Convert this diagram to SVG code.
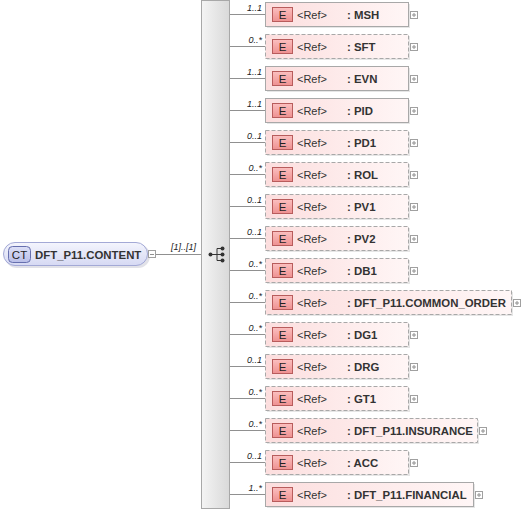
<svg xmlns="http://www.w3.org/2000/svg" width="522" height="513" viewBox="0 0 522 513">
<defs>
<linearGradient id="gE" x1="0" y1="0" x2="1" y2="0"><stop offset="0" stop-color="#fcdede"/><stop offset="1" stop-color="#fff6f6"/></linearGradient>
<linearGradient id="gBadge" x1="0" y1="0" x2="0" y2="1"><stop offset="0" stop-color="#fbc0c0"/><stop offset="1" stop-color="#ee9090"/></linearGradient>
<linearGradient id="gCT" x1="0" y1="0" x2="0" y2="1"><stop offset="0" stop-color="#f4f5fd"/><stop offset="1" stop-color="#d6d9f3"/></linearGradient>
<linearGradient id="gCTb" x1="0" y1="0" x2="0" y2="1"><stop offset="0" stop-color="#dde0f7"/><stop offset="1" stop-color="#b9bee8"/></linearGradient>
<linearGradient id="gSeq" x1="0" y1="0" x2="1" y2="0"><stop offset="0" stop-color="#f4f4f4"/><stop offset="1" stop-color="#d9d9d9"/></linearGradient>
<g id="plus"><rect x="0.5" y="0.5" width="7" height="7" fill="#fff" stroke="#a0a0a0"/><path d="M2 4H6M4 2V6" stroke="#909090"/></g>
</defs>
<style>
.t{font-family:"Liberation Sans",Arial,sans-serif;font-size:11.4px;font-weight:bold;fill:#333}
.r{font-family:"Liberation Sans",Arial,sans-serif;font-size:11px;fill:#333}
.c{font-family:"Liberation Sans",Arial,sans-serif;font-size:9px;font-style:italic;fill:#222}
.box{fill:url(#gE);stroke:#a8a8a8;stroke-width:1}
.opt{stroke-dasharray:4,2}
.sh{fill:#e6e6e6}
.badge{fill:url(#gBadge);stroke:#b85c5c;stroke-width:1}
.bt{font-family:"Liberation Sans",Arial,sans-serif;font-size:11.5px;fill:#222}
.ln{stroke:#909090;stroke-width:1;fill:none}
</style>
<g id="connectors">
<path class="ln" d="M156 254.5H202"/>
<text class="c" x="196" y="250" text-anchor="end">[1]..[1]</text>
<path class="ln" d="M230 14.5H265M230 46.5H265M230 78.5H265M230 110.5H265M230 142.5H265M230 174.5H265M230 206.5H265M230 238.5H265M230 270.5H265M230 302.5H265M230 334.5H265M230 366.5H265M230 398.5H265M230 430.5H265M230 462.5H265M230 494.5H265"/>
<text class="c" x="262" y="11" text-anchor="end">1..1</text>
<text class="c" x="262" y="43" text-anchor="end">0..*</text>
<text class="c" x="262" y="75" text-anchor="end">1..1</text>
<text class="c" x="262" y="107" text-anchor="end">1..1</text>
<text class="c" x="262" y="139" text-anchor="end">0..1</text>
<text class="c" x="262" y="171" text-anchor="end">0..*</text>
<text class="c" x="262" y="203" text-anchor="end">0..1</text>
<text class="c" x="262" y="235" text-anchor="end">0..1</text>
<text class="c" x="262" y="267" text-anchor="end">0..*</text>
<text class="c" x="262" y="299" text-anchor="end">0..*</text>
<text class="c" x="262" y="331" text-anchor="end">0..*</text>
<text class="c" x="262" y="363" text-anchor="end">0..1</text>
<text class="c" x="262" y="395" text-anchor="end">0..*</text>
<text class="c" x="262" y="427" text-anchor="end">0..*</text>
<text class="c" x="262" y="459" text-anchor="end">0..1</text>
<text class="c" x="262" y="491" text-anchor="end">1..*</text>
</g>
<g id="ct">
<rect x="5" y="244" width="145" height="24" rx="12" fill="#e2e2e8"/>
<rect x="3.5" y="242.5" width="144" height="23" rx="11.5" fill="url(#gCT)" stroke="#a3a9d6"/>
<rect x="8.5" y="246.5" width="22" height="16" rx="4" fill="url(#gCTb)" stroke="#666fae"/>
<text class="bt" x="19.5" y="258.5" text-anchor="middle">CT</text>
<text class="t" x="35" y="258.5">DFT_P11.CONTENT</text>
<rect x="148.5" y="250.5" width="7" height="7" fill="#fff" stroke="#a0a0a0"/>
<path d="M150 254.5H154" stroke="#909090"/>
</g>
<g id="sequence">
<rect x="201.5" y="0.5" width="28" height="508" fill="url(#gSeq)" stroke="#a8a8a8"/>
<path d="M210 254.5H217M217 248.5V260.5M217 248.5H222M217 254.5H222M217 260.5H222" stroke="#333" fill="none"/>
<circle cx="210.5" cy="254.5" r="2" fill="#333"/>
<circle cx="222.5" cy="248.5" r="2" fill="#333"/>
<circle cx="222.5" cy="254.5" r="2" fill="#333"/>
<circle cx="222.5" cy="260.5" r="2" fill="#333"/>
</g>
<g id="e0"><rect class="sh" x="267" y="4" width="143" height="24"/><rect class="box" x="265.5" y="2.5" width="143" height="24"/><rect class="badge" x="272.5" y="7.5" width="20" height="14"/><text class="bt" x="282.5" y="18.5" text-anchor="middle">E</text><text class="r" x="297" y="18.5">&lt;Ref&gt;</text><text class="t" x="347" y="18.5">: MSH</text><use href="#plus" x="410" y="11"/></g>
<g id="e1"><rect class="sh" x="267" y="36" width="143" height="24"/><rect class="box opt" x="265.5" y="34.5" width="143" height="24"/><rect class="badge" x="272.5" y="39.5" width="20" height="14"/><text class="bt" x="282.5" y="50.5" text-anchor="middle">E</text><text class="r" x="297" y="50.5">&lt;Ref&gt;</text><text class="t" x="347" y="50.5">: SFT</text><use href="#plus" x="410" y="43"/></g>
<g id="e2"><rect class="sh" x="267" y="68" width="143" height="24"/><rect class="box" x="265.5" y="66.5" width="143" height="24"/><rect class="badge" x="272.5" y="71.5" width="20" height="14"/><text class="bt" x="282.5" y="82.5" text-anchor="middle">E</text><text class="r" x="297" y="82.5">&lt;Ref&gt;</text><text class="t" x="347" y="82.5">: EVN</text><use href="#plus" x="410" y="75"/></g>
<g id="e3"><rect class="sh" x="267" y="100" width="143" height="24"/><rect class="box" x="265.5" y="98.5" width="143" height="24"/><rect class="badge" x="272.5" y="103.5" width="20" height="14"/><text class="bt" x="282.5" y="114.5" text-anchor="middle">E</text><text class="r" x="297" y="114.5">&lt;Ref&gt;</text><text class="t" x="347" y="114.5">: PID</text><use href="#plus" x="410" y="107"/></g>
<g id="e4"><rect class="sh" x="267" y="132" width="143" height="24"/><rect class="box opt" x="265.5" y="130.5" width="143" height="24"/><rect class="badge" x="272.5" y="135.5" width="20" height="14"/><text class="bt" x="282.5" y="146.5" text-anchor="middle">E</text><text class="r" x="297" y="146.5">&lt;Ref&gt;</text><text class="t" x="347" y="146.5">: PD1</text><use href="#plus" x="410" y="139"/></g>
<g id="e5"><rect class="sh" x="267" y="164" width="143" height="24"/><rect class="box opt" x="265.5" y="162.5" width="143" height="24"/><rect class="badge" x="272.5" y="167.5" width="20" height="14"/><text class="bt" x="282.5" y="178.5" text-anchor="middle">E</text><text class="r" x="297" y="178.5">&lt;Ref&gt;</text><text class="t" x="347" y="178.5">: ROL</text><use href="#plus" x="410" y="171"/></g>
<g id="e6"><rect class="sh" x="267" y="196" width="143" height="24"/><rect class="box opt" x="265.5" y="194.5" width="143" height="24"/><rect class="badge" x="272.5" y="199.5" width="20" height="14"/><text class="bt" x="282.5" y="210.5" text-anchor="middle">E</text><text class="r" x="297" y="210.5">&lt;Ref&gt;</text><text class="t" x="347" y="210.5">: PV1</text><use href="#plus" x="410" y="203"/></g>
<g id="e7"><rect class="sh" x="267" y="228" width="143" height="24"/><rect class="box opt" x="265.5" y="226.5" width="143" height="24"/><rect class="badge" x="272.5" y="231.5" width="20" height="14"/><text class="bt" x="282.5" y="242.5" text-anchor="middle">E</text><text class="r" x="297" y="242.5">&lt;Ref&gt;</text><text class="t" x="347" y="242.5">: PV2</text><use href="#plus" x="410" y="235"/></g>
<g id="e8"><rect class="sh" x="267" y="260" width="143" height="24"/><rect class="box opt" x="265.5" y="258.5" width="143" height="24"/><rect class="badge" x="272.5" y="263.5" width="20" height="14"/><text class="bt" x="282.5" y="274.5" text-anchor="middle">E</text><text class="r" x="297" y="274.5">&lt;Ref&gt;</text><text class="t" x="347" y="274.5">: DB1</text><use href="#plus" x="410" y="267"/></g>
<g id="e9"><rect class="sh" x="267" y="292" width="246" height="24"/><rect class="box opt" x="265.5" y="290.5" width="246" height="24"/><rect class="badge" x="272.5" y="295.5" width="20" height="14"/><text class="bt" x="282.5" y="306.5" text-anchor="middle">E</text><text class="r" x="297" y="306.5">&lt;Ref&gt;</text><text class="t" x="347" y="306.5">: DFT_P11.COMMON_ORDER</text><use href="#plus" x="513" y="299"/></g>
<g id="e10"><rect class="sh" x="267" y="324" width="143" height="24"/><rect class="box opt" x="265.5" y="322.5" width="143" height="24"/><rect class="badge" x="272.5" y="327.5" width="20" height="14"/><text class="bt" x="282.5" y="338.5" text-anchor="middle">E</text><text class="r" x="297" y="338.5">&lt;Ref&gt;</text><text class="t" x="347" y="338.5">: DG1</text><use href="#plus" x="410" y="331"/></g>
<g id="e11"><rect class="sh" x="267" y="356" width="143" height="24"/><rect class="box opt" x="265.5" y="354.5" width="143" height="24"/><rect class="badge" x="272.5" y="359.5" width="20" height="14"/><text class="bt" x="282.5" y="370.5" text-anchor="middle">E</text><text class="r" x="297" y="370.5">&lt;Ref&gt;</text><text class="t" x="347" y="370.5">: DRG</text><use href="#plus" x="410" y="363"/></g>
<g id="e12"><rect class="sh" x="267" y="388" width="143" height="24"/><rect class="box opt" x="265.5" y="386.5" width="143" height="24"/><rect class="badge" x="272.5" y="391.5" width="20" height="14"/><text class="bt" x="282.5" y="402.5" text-anchor="middle">E</text><text class="r" x="297" y="402.5">&lt;Ref&gt;</text><text class="t" x="347" y="402.5">: GT1</text><use href="#plus" x="410" y="395"/></g>
<g id="e13"><rect class="sh" x="267" y="420" width="212" height="24"/><rect class="box opt" x="265.5" y="418.5" width="212" height="24"/><rect class="badge" x="272.5" y="423.5" width="20" height="14"/><text class="bt" x="282.5" y="434.5" text-anchor="middle">E</text><text class="r" x="297" y="434.5">&lt;Ref&gt;</text><text class="t" x="347" y="434.5">: DFT_P11.INSURANCE</text><use href="#plus" x="479" y="427"/></g>
<g id="e14"><rect class="sh" x="267" y="452" width="143" height="24"/><rect class="box opt" x="265.5" y="450.5" width="143" height="24"/><rect class="badge" x="272.5" y="455.5" width="20" height="14"/><text class="bt" x="282.5" y="466.5" text-anchor="middle">E</text><text class="r" x="297" y="466.5">&lt;Ref&gt;</text><text class="t" x="347" y="466.5">: ACC</text><use href="#plus" x="410" y="459"/></g>
<g id="e15"><rect class="sh" x="267" y="484" width="208" height="24"/><rect class="box" x="265.5" y="482.5" width="208" height="24"/><rect class="badge" x="272.5" y="487.5" width="20" height="14"/><text class="bt" x="282.5" y="498.5" text-anchor="middle">E</text><text class="r" x="297" y="498.5">&lt;Ref&gt;</text><text class="t" x="347" y="498.5">: DFT_P11.FINANCIAL</text><use href="#plus" x="475" y="491"/></g>
</svg>
